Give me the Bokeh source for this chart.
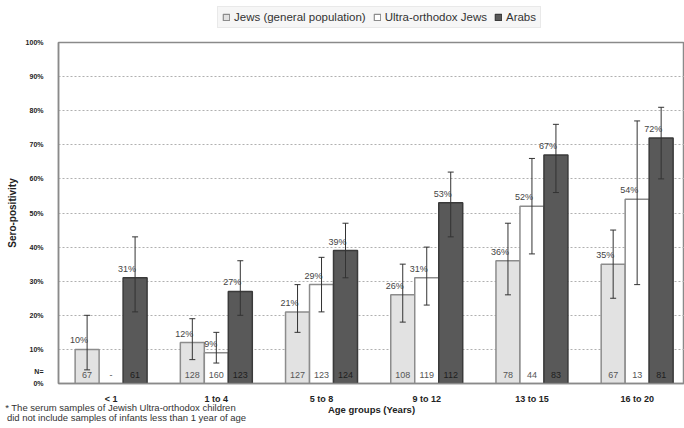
from bokeh.plotting import figure
from bokeh.layouts import column
from bokeh.models import (ColumnDataSource, FixedTicker, Legend, LegendItem,
                          Whisker, TeeHead, Range1d, LinearAxis)
from bokeh.embed import file_html
from bokeh.resources import INLINE
from bokeh.core.properties import value

categories = ["< 1", "1 to 4", "5 to 8", "9 to 12", "13 to 15", "16 to 20"]
series_names = ["Jews (general population)", "Ultra-orthodox Jews", "Arabs"]

jews = [10, 12, 21, 26, 36, 35]
jews_lo = [4, 7, 15, 18, 26, 25]
jews_hi = [20, 19, 29, 35, 47, 45]
jews_n = ["67", "128", "127", "108", "78", "67"]

ultra = [None, 9, 29, 31, 52, 54]
ultra_lo = [None, 6, 21, 23, 38, 29]
ultra_hi = [None, 15, 37, 40, 66, 77]
ultra_n = ["-", "160", "123", "119", "44", "13"]

arabs = [31, 27, 39, 53, 67, 72]
arabs_lo = [21, 20, 31, 43, 56, 60]
arabs_hi = [43, 36, 47, 62, 76, 81]
arabs_n = ["61", "123", "124", "112", "83", "81"]

y_ticks = list(range(0, 101, 10))
n_tick = 3.5
footnote = ["* The serum samples of Jewish Ultra-orthodox children",
            "did not include samples of infants less than 1 year of age"]
x_title = "Age groups (Years)"
y_title = "Sero-positivity"

FONT = "Liberation Sans"
BW = 0.228
fills = ["#e2e2e2", "#ffffff", "#595959"]
lines = ["#8c8c8c", "#8c8c8c", "#3a3a3a"]
ncols = ["#555555", "#555555", "#1e1e1e"]

# ---------- legend strip ----------
f0 = figure(width=684, height=36, output_backend="svg", toolbar_location=None,
            x_range=Range1d(0, 1), y_range=Range1d(0, 1), min_border=0,
            x_axis_location=None, y_axis_location=None)
f0.grid.visible = False
f0.outline_line_color = None
leg_r = []
for fc, lc in zip(fills, lines):
    # tiny swatch renderers for the legend; hidden underneath the opaque legend box
    leg_r.append(f0.vbar(x=[0.5], bottom=[0.45], top=[0.5], width=0.005,
                         fill_color=fc, line_color=lc, line_width=1.2))
legend = Legend(items=[LegendItem(label=n, renderers=[r]) for n, r in zip(series_names, leg_r)],
                orientation="horizontal", location=(159, 8),
                label_text_font=FONT, label_text_font_size="11.5px", label_text_color="#333333",
                glyph_width=8, glyph_height=8, label_standoff=4, spacing=7,
                padding=4, margin=0, border_line_color="#dcdcdc",
                background_fill_color="#f6f6f6", background_fill_alpha=1.0,
                label_height=12)
f0.add_layout(legend, "center")

# ---------- main chart ----------
p = figure(width=684, height=392, output_backend="svg", toolbar_location=None,
           x_range=Range1d(0, 5.95), y_range=Range1d(0, 100),
           min_border_left=58, min_border_right=0, min_border_top=6,
           min_border_bottom=45)
p.outline_line_color = "#8a8a8a"
p.outline_line_width = 1.5
p.background_fill_color = "white"
p.border_fill_color = "white"

centers = [i + 0.5 for i in range(len(categories))]
offsets = [-BW, 0.0, BW]

for vals, lo, hi, ns, off, fill, line, ncol in zip(
        [jews, ultra, arabs], [jews_lo, ultra_lo, arabs_lo], [jews_hi, ultra_hi, arabs_hi],
        [jews_n, ultra_n, arabs_n], offsets, fills, lines, ncols):
    xs, tops, los, his, labs = [], [], [], [], []
    for c, v, l, h in zip(centers, vals, lo, hi):
        if v is None:
            continue
        xs.append(c + off)
        tops.append(v)
        los.append(l)
        his.append(h)
        labs.append(f"{v}%")
    src = ColumnDataSource(dict(x=xs, top=tops, lo=los, hi=his, lab=labs))
    p.vbar(x="x", top="top", width=BW, source=src, fill_color=fill,
           line_color=line, line_width=1.5)
    w = Whisker(base="x", lower="lo", upper="hi", source=src, line_color="#333333",
                line_width=1, level="overlay",
                upper_head=TeeHead(size=6, line_color="#333333", line_width=1),
                lower_head=TeeHead(size=6, line_color="#333333", line_width=1))
    p.add_layout(w)
    p.text(x="x", y="top", text="lab", source=src, text_align="right",
           text_baseline="bottom", y_offset=-4, x_offset=1,
           text_font=value(FONT), text_font_size="9px", text_color="#444444")
    nsrc = ColumnDataSource(dict(x=[c + off for c in centers], y=[2.4] * len(centers), n=ns))
    p.text(x="x", y="y", text="n", source=nsrc, text_align="center",
           text_baseline="middle", text_font=value(FONT), text_font_size="9px",
           text_color=ncol)

# x axis (categories + title)
p.xaxis.ticker = FixedTicker(ticks=centers)
p.xaxis.major_label_overrides = {c: cat for c, cat in zip(centers, categories)}
p.xaxis.major_tick_out = 0
p.xaxis.major_tick_in = 0
p.xaxis.minor_tick_line_color = None
p.xaxis.axis_line_color = "#8a8a8a"
p.xaxis.axis_line_width = 1.5
p.xaxis.major_label_text_font = FONT
p.xaxis.major_label_text_font_style = "bold"
p.xaxis.major_label_text_font_size = "9px"
p.xaxis.major_label_text_color = "#222222"
p.xaxis.major_label_standoff = 10
p.xaxis.axis_label = x_title
p.xaxis.axis_label_text_font = FONT
p.xaxis.axis_label_text_font_style = "bold"
p.xaxis.axis_label_text_font_size = "9.5px"
p.xaxis.axis_label_text_color = "#222222"
p.xaxis.axis_label_standoff = -3

# footnote as two extra label-only axes in pixel space
p.extra_x_ranges = {"px": Range1d(58, 684)}
foot_centers = [120, 126]
foot_standoffs = [-16, -6]
for fc, txt, so in zip(foot_centers, footnote, foot_standoffs):
    ax = LinearAxis(x_range_name="px", ticker=FixedTicker(ticks=[fc]),
                    major_label_overrides={fc: txt}, axis_line_color=None,
                    major_tick_line_color=None, minor_tick_line_color=None,
                    major_tick_out=0, major_tick_in=0, major_label_standoff=so,
                    major_label_text_font=FONT, major_label_text_font_size="9.5px",
                    major_label_text_color="#333333")
    p.add_layout(ax, "below")

# y axis
p.yaxis.ticker = FixedTicker(ticks=[0, n_tick] + y_ticks[1:])
over = {t: f"{t}%" for t in y_ticks}
over[n_tick] = "N="
p.yaxis.major_label_overrides = over
p.yaxis.major_tick_out = 0
p.yaxis.major_tick_in = 0
p.yaxis.minor_tick_line_color = None
p.yaxis.axis_line_color = "#8a8a8a"
p.yaxis.axis_line_width = 1.5
p.yaxis.major_label_text_font = FONT
p.yaxis.major_label_text_font_style = "bold"
p.yaxis.major_label_text_font_size = "7px"
p.yaxis.major_label_text_color = "#222222"
p.yaxis.major_label_standoff = 15
p.yaxis.axis_label = y_title
p.yaxis.axis_label_text_font = FONT
p.yaxis.axis_label_text_font_style = "bold"
p.yaxis.axis_label_text_font_size = "10px"
p.yaxis.axis_label_text_color = "#222222"
p.yaxis.axis_label_standoff = 5

p.xgrid.grid_line_color = None
p.ygrid.ticker = FixedTicker(ticks=y_ticks[1:])
p.ygrid.grid_line_color = "#b0b0b0"
p.ygrid.grid_line_dash = "2 2"
p.ygrid.grid_line_width = 1

layout = column(f0, p, spacing=0)
open("out.html", "w").write(file_html(layout, INLINE))
